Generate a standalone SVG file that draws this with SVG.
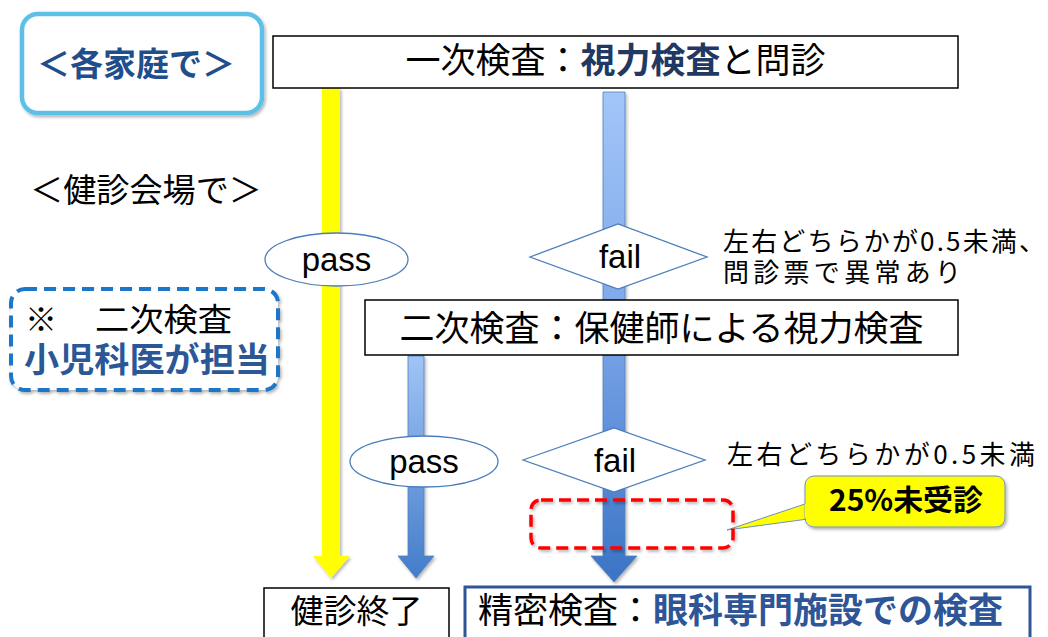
<svg xmlns="http://www.w3.org/2000/svg" width="1048" height="637" viewBox="0 0 1048 637">
  <defs>
    <style>
      .jp { font-family: "Noto Sans CJK JP", "Noto Sans CJK SC", sans-serif; }
      .lat { font-family: "Liberation Sans", "Noto Sans", sans-serif; }
      .box { fill: #ffffff; stroke: #000000; stroke-width: 1.5; }
      .shape { fill: #ffffff; stroke: #4a7ebb; stroke-width: 1.3; }
      .blk { fill: #000000; }
      .navy { fill: #1f3864; font-weight: bold; }
    </style>
    <linearGradient id="gBig" x1="0" y1="0" x2="0" y2="1">
      <stop offset="0" stop-color="#a3c6f8"/>
      <stop offset="0.45" stop-color="#7ea8ea"/>
      <stop offset="1" stop-color="#3b74c6"/>
    </linearGradient>
    <linearGradient id="gSmall" x1="0" y1="0" x2="0" y2="1">
      <stop offset="0" stop-color="#a0c4f6"/>
      <stop offset="1" stop-color="#447cca"/>
    </linearGradient>
    <filter id="sh" x="-10%" y="-10%" width="120%" height="130%">
      <feDropShadow dx="1.5" dy="2" stdDeviation="1.5" flood-color="#000000" flood-opacity="0.3"/>
    </filter>
  </defs>

  <rect width="1048" height="637" fill="#ffffff"/>

  <g id="connectors">
    <path id="arrow-yellow" d="M322,88 H340 V556 H350 L331,578 L313,556 H322 Z" fill="#ffff00" filter="url(#sh)"/>
    <path id="arrow-pass2" d="M408,356 H424 V556 H434 L416,578 L398,556 H408 Z" fill="url(#gSmall)" stroke="#4f81bd" stroke-width="0.8" filter="url(#sh)"/>
    <path id="arrow-fail" d="M603,92 H625 V556 H637 L614,582 L591,556 H603 Z" fill="url(#gBig)" stroke="#4f81bd" stroke-width="0.8" filter="url(#sh)"/>
    <path id="callout-tail" d="M808,503 L727,530 L808,519 Z" fill="#ffff00" stroke="#6f8fc8" stroke-width="1"/>
  </g>

  <g id="home">
    <rect x="22" y="14" width="240" height="99" rx="16" fill="#ffffff" stroke="#5bc0e8" stroke-width="4.5" filter="url(#sh)"/>
    <text x="136" y="76" text-anchor="middle" class="jp" font-size="33" font-weight="bold" fill="#1f4e8c" textLength="198" lengthAdjust="spacingAndGlyphs">＜各家庭で＞</text>
  </g>

  <g id="primary">
    <rect x="273" y="36" width="685" height="52" class="box"/>
    <text x="615.5" y="73" text-anchor="middle" class="jp" font-size="35"><tspan class="blk">一次検査：</tspan><tspan class="navy">視力検査</tspan><tspan class="blk">と問診</tspan></text>
  </g>

  <g id="venue">
    <text x="30" y="202" class="jp" font-size="33" fill="#000000" textLength="232" lengthAdjust="spacingAndGlyphs">＜健診会場で＞</text>
  </g>

  <g id="pass1">
    <ellipse cx="336.5" cy="259.5" rx="71.5" ry="26.5" class="shape"/>
    <text x="336.5" y="271" text-anchor="middle" class="lat" font-size="33" fill="#000000">pass</text>
  </g>

  <g id="fail1">
    <polygon points="530,257 618,224 707,257 618,289" class="shape"/>
    <text x="620" y="268" text-anchor="middle" class="lat" font-size="33" fill="#000000">fail</text>
  </g>

  <g id="note1">
    <text x="723" y="251" class="jp" font-size="26" fill="#000000" textLength="322" lengthAdjust="spacing">左右どちらかが0.5未満、</text>
    <text x="723" y="282" class="jp" font-size="26" fill="#000000" textLength="238" lengthAdjust="spacing">問診票で異常あり</text>
  </g>

  <g id="pediatric">
    <rect x="11" y="289" width="267" height="101" rx="14" fill="#ffffff" stroke="#1f77c8" stroke-width="4" stroke-dasharray="12 7" filter="url(#sh)"/>
    <text x="25" y="331" class="jp" font-size="32" fill="#000000">※</text>
    <text x="95" y="331" class="jp" font-size="32" fill="#000000" textLength="137" lengthAdjust="spacingAndGlyphs">二次検査</text>
    <text x="24" y="372" class="jp" font-size="34" font-weight="bold" fill="#2b5797" textLength="246" lengthAdjust="spacingAndGlyphs">小児科医が担当</text>
  </g>

  <g id="secondary">
    <rect x="365" y="300" width="593" height="55" class="box"/>
    <text x="661.5" y="341" text-anchor="middle" class="jp" font-size="35" fill="#000000">二次検査：保健師による視力検査</text>
  </g>

  <g id="pass2">
    <ellipse cx="424" cy="461.5" rx="74" ry="25.5" class="shape"/>
    <text x="424" y="473" text-anchor="middle" class="lat" font-size="33" fill="#000000">pass</text>
  </g>

  <g id="fail2">
    <polygon points="523,460 614,428 705,460 614,492" class="shape"/>
    <text x="615" y="472" text-anchor="middle" class="lat" font-size="33" fill="#000000">fail</text>
  </g>

  <g id="note2">
    <text x="727" y="464" class="jp" font-size="26" fill="#000000" textLength="308" lengthAdjust="spacing">左右どちらかが0.5未満</text>
  </g>

  <g id="unvisited">
    <rect x="531" y="500" width="202" height="48" rx="10" fill="none" stroke="#ff0000" stroke-width="3.5" stroke-dasharray="12 6" filter="url(#sh)"/>
  </g>

  <g id="callout">
    <rect x="805" y="476" width="200" height="51" rx="9" fill="#ffff00" stroke="#6f8fc8" stroke-width="1" filter="url(#sh)"/>
    <path d="M806,504 L806,518" stroke="#ffff00" stroke-width="2.5"/>
    <text x="906" y="511" text-anchor="middle" class="jp" font-size="29" font-weight="bold" fill="#000000" textLength="154" lengthAdjust="spacingAndGlyphs">25%未受診</text>
  </g>

  <g id="end">
    <rect x="264" y="588" width="185" height="55" class="box"/>
    <text x="356.5" y="623" text-anchor="middle" class="jp" font-size="33" fill="#000000">健診終了</text>
  </g>

  <g id="detailed">
    <rect x="465" y="587" width="565" height="56" fill="#ffffff" stroke="#2f5597" stroke-width="3"/>
    <text x="478" y="623" class="jp" font-size="35"><tspan class="blk">精密検査：</tspan><tspan fill="#2e5597" font-weight="bold">眼科専門施設での検査</tspan></text>
  </g>
</svg>
